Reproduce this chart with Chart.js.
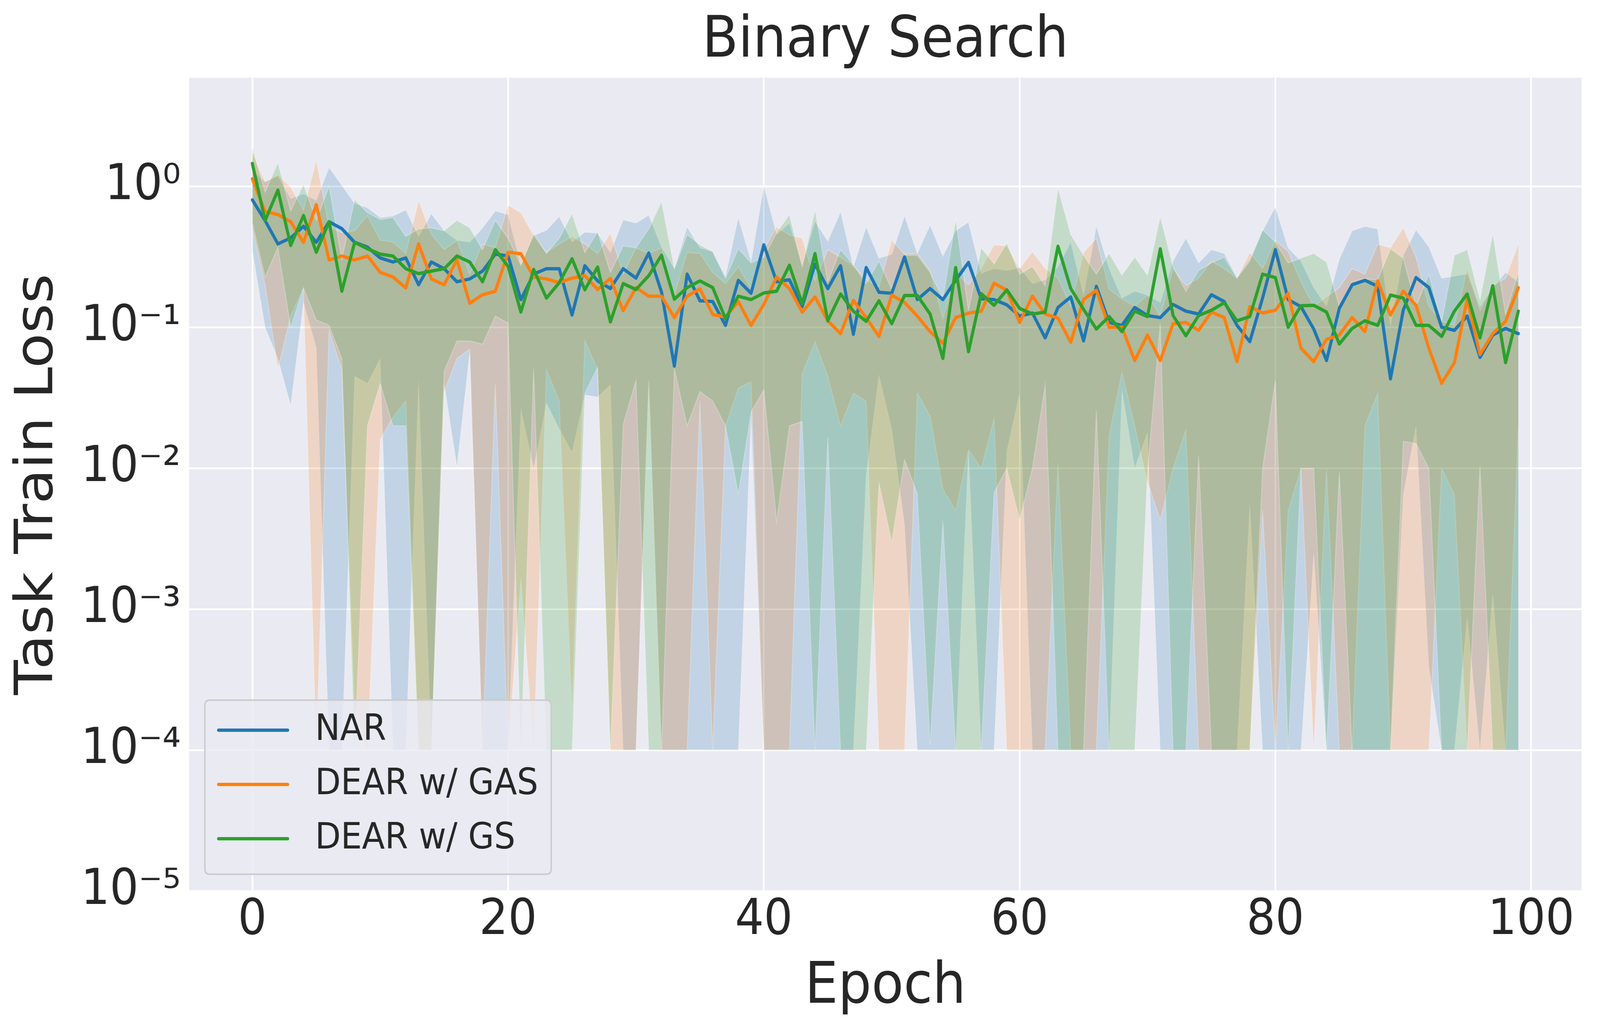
<!DOCTYPE html>
<html>
<head>
<meta charset="utf-8">
<script src="https://cdn.jsdelivr.net/npm/chart.js@4.4.1/dist/chart.umd.min.js"></script>
<style>
html,body{margin:0;padding:0;background:#ffffff;overflow:hidden;width:100vw;height:100vh;}
canvas{display:block;}
</style>
</head>
<body>
<canvas id="c" width="4444" height="2643" style="width:100vw;height:100vh"></canvas>
<script>
// ---------------- data ----------------
const epochs = [0,1,2,3,4,5,6,7,8,9,10,11,12,13,14,15,16,17,18,19,
20,21,22,23,24,25,26,27,28,29,30,31,32,33,34,35,36,37,38,39,
40,41,42,43,44,45,46,47,48,49,50,51,52,53,54,55,56,57,58,59,
60,61,62,63,64,65,66,67,68,69,70,71,72,73,74,75,76,77,78,79,
80,81,82,83,84,85,86,87,88,89,90,91,92,93,94,95,96,97,98,99];

const xTickValues = [0,20,40,60,80,100];
const yTickValues = [1e-5,1e-4,1e-3,1e-2,1e-1,1];

const seriesNames = ["NAR","DEAR w/ GAS","DEAR w/ GS"];

const narMean = [0.80,0.57,0.39,0.43,0.52,0.40,0.56,0.50,0.40,0.37,0.31,0.29,0.31,0.20,0.29,0.26,0.21,0.22,0.25,0.33,0.32,
0.157,0.238,0.26,0.26,0.122,0.273,0.213,0.188,0.26,0.223,0.336,0.177,0.053,0.238,0.154,0.152,0.103,0.215,0.174,0.384,
0.21,0.217,0.14,0.28,0.188,0.273,0.089,0.265,0.177,0.174,0.315,0.157,0.188,0.157,0.215,0.288,0.159,0.157,0.144,0.12,
0.126,0.084,0.138,0.164,0.08,0.195,0.108,0.103,0.138,0.121,0.117,0.145,0.13,0.124,0.17,0.152,0.103,0.079,0.161,0.355,
0.157,0.14,0.097,0.058,0.136,0.2,0.215,0.195,0.043,0.132,0.225,0.191,0.10,0.095,0.12,0.061,0.088,0.098,0.09];
const narUpper = [1.30,1.08,1.185,0.818,0.884,0.793,1.362,1.016,0.757,0.705,0.600,0.616,0.679,0.441,0.639,0.484,0.414,0.402,0.507,0.669,0.629,
0.277,0.448,0.487,0.610,0.402,0.472,0.466,0.339,0.579,0.548,0.623,0.372,0.261,0.515,0.366,0.344,0.230,0.600,0.295,1.016,
0.455,0.548,0.277,0.565,0.408,0.659,0.269,0.515,0.309,0.329,0.619,0.334,0.531,0.319,0.484,0.556,0.241,0.261,0.253,0.265,
0.204,0.217,0.269,0.402,0.169,0.523,0.261,0.161,0.18,0.169,0.15,0.295,0.428,0.286,0.355,0.334,0.227,0.304,0.484,0.712,
0.366,0.295,0.191,0.141,0.304,0.484,0.518,0.499,0.103,0.324,0.491,0.372,0.223,0.230,0.239,0.14,0.191,0.245,0.210];
const narLower = [0.35,0.10,0.06,0.028,0.15,0.072,1e-4,1e-4,0.045,0.04,0.06,1e-4,1e-4,0.042,1e-4,0.04,0.0103,0.067,1e-4,1e-4,1e-4,
0.0265,0.01,0.029,0.019,0.013,0.033,0.032,0.039,1e-4,1e-4,0.042,1e-4,1e-4,1e-4,1e-4,1e-4,1e-4,1e-4,0.023,1e-4,
1e-4,1e-4,1e-4,1e-4,1e-4,1e-4,1e-4,0.0089,0.046,0.019,0.004,1e-4,1e-4,1e-4,1e-4,0.0135,1e-4,1e-4,0.0133,0.034,
1e-4,1e-4,1e-4,1e-4,1e-4,1e-4,1e-4,0.036,0.01,0.018,1e-4,1e-4,1e-4,1e-4,1e-4,1e-4,1e-4,0.0056,1e-4,1e-4,
1e-4,1e-4,0.0025,1e-4,1e-4,1e-4,1e-4,1e-4,1e-4,0.0065,0.02,0.00039,1e-4,1e-4,0.00088,1e-4,0.0013,1e-4,1e-4];

const gasMean = [1.13,0.66,0.63,0.56,0.40,0.74,0.30,0.32,0.30,0.32,0.245,0.227,0.19,0.39,0.22,0.20,0.30,0.148,0.17,0.18,0.34,
0.332,0.227,0.22,0.207,0.223,0.232,0.185,0.222,0.131,0.191,0.166,0.166,0.117,0.166,0.187,0.123,0.118,0.152,0.103,0.145,
0.227,0.188,0.128,0.164,0.111,0.09,0.155,0.117,0.086,0.169,0.15,0.12,0.093,0.077,0.117,0.126,0.13,0.205,0.183,0.108,
0.166,0.124,0.116,0.078,0.157,0.183,0.10,0.10,0.058,0.088,0.058,0.106,0.108,0.095,0.128,0.117,0.057,0.14,0.126,0.132,
0.174,0.071,0.057,0.082,0.088,0.117,0.093,0.213,0.122,0.18,0.143,0.071,0.04,0.056,0.159,0.064,0.09,0.11,0.191];
const gasUpper = [1.718,1.08,1.204,0.985,0.679,1.541,0.515,0.469,0.484,0.619,0.414,0.402,0.334,0.793,0.455,0.355,0.414,0.238,0.390,0.366,0.734,
0.649,0.448,0.339,0.390,0.441,0.390,0.334,0.466,0.238,0.366,0.334,0.366,0.169,0.339,0.334,0.245,0.204,0.269,0.188,0.355,
0.515,0.45,0.428,0.213,0.355,0.314,0.273,0.217,0.194,0.414,0.33,0.334,0.253,0.115,0.245,0.2,0.261,0.384,0.378,0.261,
0.344,0.261,0.223,0.141,0.339,0.428,0.186,0.159,0.141,0.169,0.120,0.261,0.197,0.223,0.295,0.261,0.223,0.339,0.261,0.414,
0.344,0.210,0.141,0.164,0.191,0.261,0.238,0.388,0.366,0.507,0.314,0.141,0.110,0.103,0.261,0.132,0.197,0.223,0.390];
const gasLower = [0.5,0.2,0.051,0.12,0.19,1e-4,0.095,0.05,0.0002,1e-4,0.016,0.023,0.03,1e-4,1e-4,0.035,0.06,0.07,1e-4,0.04,1e-4,
0.00166,1e-4,0.05,0.03,0.0002,0.081,0.05,1e-4,1e-4,1e-4,0.042,1e-4,1e-4,1e-4,0.03,1e-4,0.02,0.037,0.041,1e-4,
1e-4,1e-4,0.047,0.079,0.045,0.02,0.034,0.03,1e-4,1e-4,1e-4,0.034,0.0236,0.0071,0.005,0.0135,0.01,0.0225,1e-4,1e-4,
1e-4,1e-4,0.0108,1e-4,1e-4,1e-4,0.017,0.048,0.02,0.008,0.0043,0.01,0.0187,1e-4,1e-4,1e-4,1e-4,1e-4,0.005,1e-4,
0.005,0.01,1e-4,0.01,1e-4,1e-4,0.02,0.034,1e-4,1e-4,1e-4,1e-4,0.01,0.0065,1e-4,1e-4,1e-4,1e-4,0.02];

const gsMean = [1.45,0.57,0.94,0.38,0.62,0.34,0.56,0.18,0.40,0.36,0.33,0.32,0.26,0.24,0.25,0.26,0.32,0.29,0.21,0.355,0.27,
0.128,0.257,0.161,0.207,0.306,0.184,0.267,0.109,0.204,0.185,0.232,0.324,0.158,0.191,0.213,0.191,0.115,0.166,0.157,0.175,
0.18,0.275,0.147,0.333,0.111,0.172,0.13,0.11,0.154,0.106,0.168,0.168,0.124,0.06,0.265,0.067,0.173,0.143,0.184,0.136,
0.124,0.128,0.375,0.188,0.134,0.097,0.119,0.093,0.13,0.119,0.36,0.121,0.087,0.121,0.132,0.149,0.111,0.119,0.238,0.225,
0.10,0.142,0.143,0.128,0.076,0.098,0.111,0.103,0.169,0.161,0.103,0.103,0.086,0.13,0.172,0.084,0.197,0.056,0.13];
const gsUpper = [1.885,0.911,1.471,0.669,1.031,0.573,1.0,0.304,0.805,0.649,0.582,0.600,0.441,0.499,0.507,0.484,0.573,0.507,0.355,0.573,0.428,
0.277,0.462,0.334,0.428,0.639,0.339,0.476,0.245,0.378,0.366,0.499,0.781,0.261,0.455,0.384,0.344,0.223,0.361,0.286,0.314,
0.469,0.629,0.269,0.679,0.210,0.355,0.277,0.204,0.295,0.186,0.324,0.324,0.245,0.159,0.582,0.132,0.366,0.282,0.396,0.238,
0.269,0.197,0.970,0.455,0.324,0.238,0.334,0.234,0.314,0.234,0.610,0.269,0.180,0.253,0.286,0.314,0.223,0.295,0.491,0.402,
0.286,0.309,0.334,0.290,0.141,0.210,0.220,0.217,0.361,0.309,0.141,0.238,0.110,0.324,0.355,0.157,0.462,0.124,0.245];
const gsLower = [0.55,0.227,0.37,0.10,0.19,0.113,0.103,0.06,1e-4,0.02,0.04,0.02,0.02,1e-4,1e-4,0.049,0.08,0.08,0.076,0.12,0.107,
1e-4,0.051,1e-4,1e-4,1e-4,0.034,0.052,1e-4,0.0205,0.042,1e-4,1e-4,0.051,0.02,0.035,0.03,0.02,0.0066,0.025,0.036,
0.0042,0.02,0.0215,1e-4,0.0166,1e-4,1e-4,1e-4,0.0079,0.003,0.0115,0.0066,0.00011,0.0042,1e-4,1e-4,1e-4,0.0067,0.01,0.0043,
0.01,0.039,1e-4,1e-4,1e-4,0.026,1e-4,1e-4,1e-4,0.0096,0.107,1e-4,1e-4,0.0123,1e-4,1e-4,1e-4,1e-4,0.01,0.042,
1e-4,0.01,0.01,1e-4,0.0095,1e-4,1e-4,1e-4,1e-4,0.0155,0.015,0.01,1e-4,1e-4,1e-4,0.0105,1e-4,1e-4,1e-4];

// ---------------- styling ----------------
const lineColors = ["#1f77b4","#ff7f0e","#2ca02c"];
const bandColors = ["rgba(31,119,180,0.2)","rgba(255,127,14,0.2)","rgba(44,160,44,0.2)"];
const FONT = "DejaVu Sans";
const TEXT = "#262626";
const LINE_W = 8.5;

const SUP = {"-":"\u207B","0":"\u2070","1":"\u00B9","2":"\u00B2","3":"\u00B3","4":"\u2074","5":"\u2075","6":"\u2076","7":"\u2077","8":"\u2078","9":"\u2079"};
function supLabel(v){
  const e = Math.round(Math.log10(v));
  return "10" + String(e).split("").map(ch => SUP[ch]).join("");
}

const means = [narMean, gasMean, gsMean];
const uppers = [narUpper, gasUpper, gsUpper];
const lowers = [narLower, gasLower, gsLower];

const datasets = [];
for (let s = 0; s < 3; s++) {
  datasets.push({
    label: seriesNames[s],
    data: means[s],
    borderColor: lineColors[s],
    borderWidth: LINE_W,
    borderCapStyle: "round",
    borderJoinStyle: "round",
    pointRadius: 0,
    tension: 0,
    fill: false,
    order: 2 - s
  });
}
for (let s = 0; s < 3; s++) {
  const lowerIndex = datasets.length;
  datasets.push({
    label: seriesNames[s] + " lower",
    data: lowers[s],
    borderColor: "rgba(255,255,255,0.28)",
    borderWidth: 3,
    pointRadius: 0,
    tension: 0,
    fill: false,
    order: 31 - s * 10
  });
  datasets.push({
    label: seriesNames[s] + " upper",
    data: uppers[s],
    borderColor: "rgba(255,255,255,0.28)",
    borderWidth: 3,
    pointRadius: 0,
    tension: 0,
    backgroundColor: bandColors[s],
    fill: { target: lowerIndex },
    order: 30 - s * 10
  });
}

const bgPlugin = {
  id: "bg",
  beforeDraw(chart) {
    const { ctx, chartArea: a } = chart;
    ctx.save();
    ctx.fillStyle = "#ffffff";
    ctx.fillRect(0, 0, chart.width, chart.height);
    ctx.fillStyle = "#EAEAF2";
    ctx.fillRect(a.left, a.top, a.right - a.left, a.bottom - a.top);
    ctx.restore();
  }
};

const legendPlugin = {
  id: "customLegend",
  afterDraw(chart) {
    const { ctx, chartArea: a } = chart;
    const x0 = a.left + 44, y1 = a.bottom - 43;
    const w = 962, h = 446, y0 = y1 - h, r = 14;
    ctx.save();
    ctx.beginPath();
    ctx.moveTo(x0 + r, y0);
    ctx.lineTo(x0 + w - r, y0);
    ctx.quadraticCurveTo(x0 + w, y0, x0 + w, y0 + r);
    ctx.lineTo(x0 + w, y0 + h - r);
    ctx.quadraticCurveTo(x0 + w, y0 + h, x0 + w - r, y0 + h);
    ctx.lineTo(x0 + r, y0 + h);
    ctx.quadraticCurveTo(x0, y0 + h, x0, y0 + h - r);
    ctx.lineTo(x0, y0 + r);
    ctx.quadraticCurveTo(x0, y0, x0 + r, y0);
    ctx.closePath();
    ctx.fillStyle = "rgba(234,234,242,0.8)";
    ctx.fill();
    ctx.lineWidth = 4;
    ctx.strokeStyle = "#cccccc";
    ctx.stroke();
    for (let s = 0; s < 3; s++) {
      const yy = y0 + 77 + s * 139;
      ctx.beginPath();
      ctx.moveTo(x0 + 38, yy);
      ctx.lineTo(x0 + 230, yy);
      ctx.lineWidth = LINE_W;
      ctx.lineCap = "round";
      ctx.strokeStyle = lineColors[s];
      ctx.stroke();
      ctx.fillStyle = TEXT;
      ctx.font = "93px '" + FONT + "'";
      ctx.textBaseline = "middle";
      ctx.textAlign = "left";
      ctx.fillText(seriesNames[s], x0 + 306, yy + 1);
    }
    ctx.restore();
  }
};

const tickFont = { family: FONT, size: 126, lineHeight: 1 };
const titleFont = { family: FONT, size: 146, lineHeight: 1, weight: "normal" };

new Chart(document.getElementById("c"), {
  type: "line",
  data: { labels: epochs, datasets: datasets },
  options: {
    responsive: false,
    animation: false,
    devicePixelRatio: 1,
    layout: { padding: { left: 0, right: 51, top: 0, bottom: 0 } },
    plugins: {
      legend: { display: false },
      tooltip: { enabled: false },
      title: {
        display: true,
        text: "Binary Search",
        color: TEXT,
        font: titleFont,
        fullSize: false,
        padding: { top: 34, bottom: 19 }
      },
      filler: { propagate: false }
    },
    scales: {
      x: {
        type: "linear",
        min: -4.95,
        max: 103.95,
        afterBuildTicks: (scale) => { scale.ticks = xTickValues.map(v => ({ value: v })); },
        afterFit: (scale) => { scale.height = 361; },
        grid: { color: "#ffffff", lineWidth: 4.5, drawTicks: false },
        border: { display: false },
        ticks: { color: TEXT, font: tickFont, padding: 14, autoSkip: false, maxRotation: 0, minRotation: 0,
                 callback: (v) => String(v) },
        title: { display: true, text: "Epoch", color: TEXT, font: titleFont, padding: { top: 0, bottom: 40 } }
      },
      y: {
        type: "logarithmic",
        min: 1e-5,
        max: 5.888,
        afterBuildTicks: (scale) => { scale.ticks = yTickValues.map(v => ({ value: v })); },
        afterFit: (scale) => { scale.width = 525; },
        grid: { color: "#ffffff", lineWidth: 4.5, drawTicks: false },
        border: { display: false },
        ticks: { color: TEXT, font: tickFont, padding: 23, autoSkip: false, callback: (v) => supLabel(v) },
        title: { display: true, text: "Task Train Loss", color: TEXT, font: titleFont, padding: { top: 34, bottom: 0 } }
      }
    }
  },
  plugins: [bgPlugin, legendPlugin]
});
</script>
</body>
</html>
